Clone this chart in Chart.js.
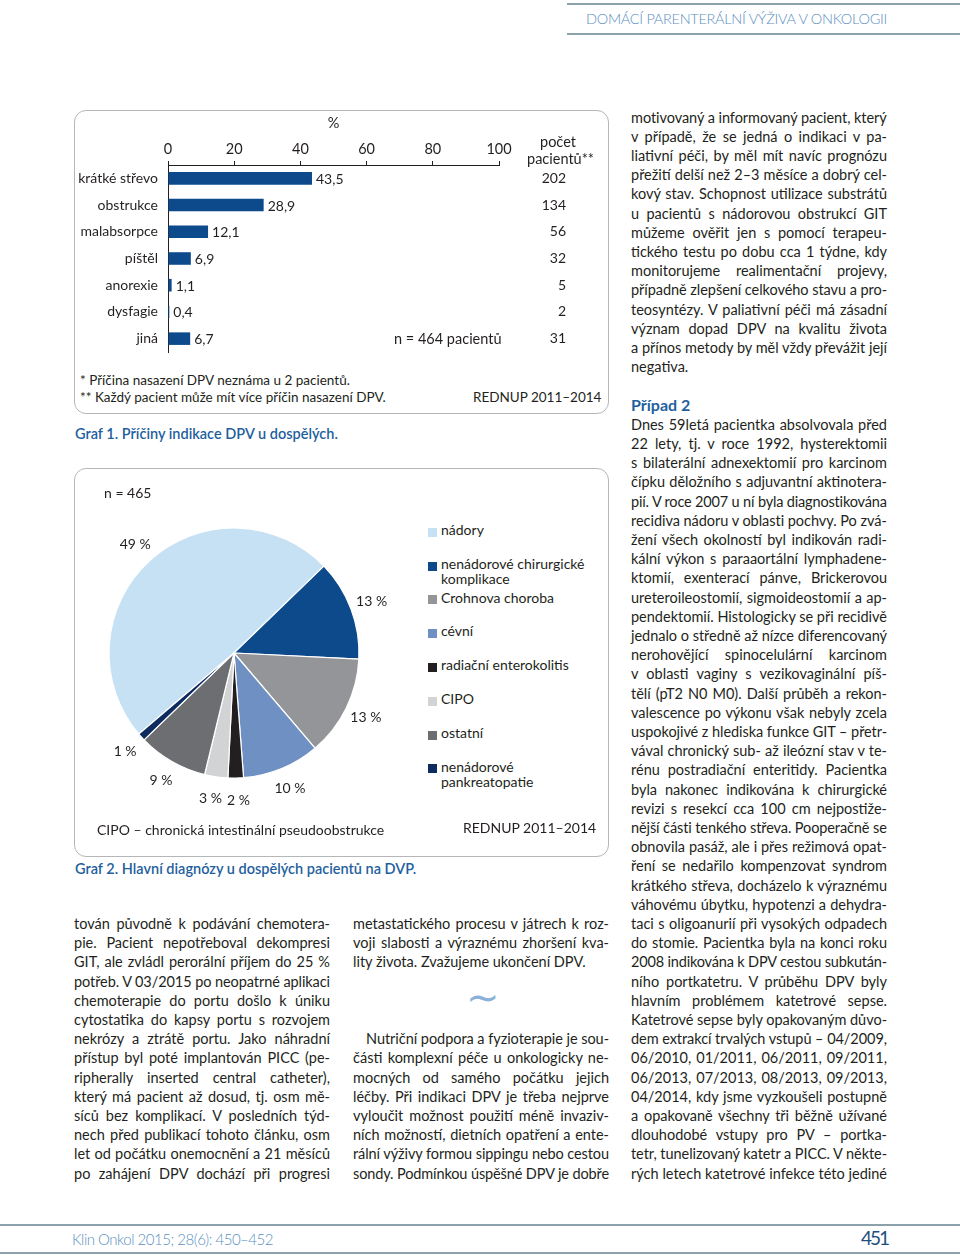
<!DOCTYPE html>
<html><head><meta charset="utf-8">
<script src="https://cdn.jsdelivr.net/npm/chart.js@4.4.0/dist/chart.umd.min.js"></script>
<style>
html,body{margin:0;padding:0;background:#fff;}
body{width:960px;height:1257px;position:relative;overflow:hidden;font-family:Lato,'Open Sans',sans-serif;color:#231f20;}
.t{position:absolute;white-space:nowrap;line-height:1.2;}
.box{position:absolute;border:1px solid #b4b6b8;border-radius:12px;box-sizing:border-box;}
.hl{position:absolute;height:2px;background:#8ba1ab;}
canvas{position:absolute;}
.lg{position:absolute;width:9px;height:9px;}
</style></head><body>
<div class="hl" style="left:567px;top:3px;width:393px;"></div>
<div class="hl" style="left:567px;top:33px;width:393px;"></div>
<div class="hl" style="left:0;top:1224px;width:960px;"></div>
<div class="hl" style="left:0;top:1252px;width:960px;"></div>
<div class="box" style="left:74px;top:110px;width:535px;height:304px;"></div>
<div class="box" style="left:74px;top:468px;width:535px;height:389px;"></div>
<canvas id="bar" width="534" height="247" style="left:75px;top:110px;"></canvas>
<canvas id="pie" width="340" height="340" style="left:64px;top:483px;"></canvas>
<script>
// ---------- data ----------
const causeLabels = ['krátké střevo','obstrukce','malabsorpce','píštěl','anorexie','dysfagie','jiná'];
const causePct = [43.5, 28.9, 12.1, 6.9, 1.1, 0.4, 6.7];
const causeCount = [202, 134, 56, 32, 5, 2, 31];
const pctTicks = [0, 20, 40, 60, 80, 100];

const diagLabels = ['nádory','nenádorové chirurgické\nkomplikace','Crohnova choroba','cévní','radiační enterokolitis','CIPO','ostatní','nenádorové\npankreatopatie'];
const diagPct = [49, 13, 13, 10, 2, 3, 9, 1];

// ---------- styles ----------
const F = 'Lato';
const TXT = '#231f20';
const BLUE = '#1f5f9e';
const diagColors = ['#c7e1f4','#0c4a8b','#939598','#6f90c2','#231f20','#d1d3d4','#6d6e71','#0d2b5e'];

// ---------- text helper ----------
function txt(s, x, y, o) {
  o = o || {};
  const fs = o.fs || 14.5;
  const d = document.createElement('div');
  d.className = 't';
  d.style.left = x + 'px';
  d.style.top = (y - 0.69 * fs) + 'px';
  d.style.fontSize = fs + 'px';
  if (o.color) d.style.color = o.color;
  if (o.fw) d.style.fontWeight = o.fw;
  const sp = document.createElement('span');
  sp.textContent = s;
  d.appendChild(sp);
  document.body.appendChild(d);
  if (o.w) {
    const nat = sp.getBoundingClientRect().width;
    const diff = o.w - nat;
    const n = (s.match(/ /g) || []).length;
    if (o.just && diff > 0 && n) sp.style.wordSpacing = (diff / n) + 'px';
    else if (diff < 0 || !o.just) sp.style.letterSpacing = (diff / s.length) + 'px';
  }
  return d;
}
const Y0 = 118.6, STEP = 19.2;
function column(lines, x, k0, w, lastFree, indentFirst) {
  lines.forEach((s, i) => {
    const ind = (i === 0 && indentFirst) ? indentFirst : 0;
    const free = lastFree && i === lines.length - 1;
    txt(s, x + ind, Y0 + (k0 + i) * STEP, free ? {} : {w: w - ind, just: true});
  });
}

// header / footer
txt('DOMÁCÍ PARENTERÁLNÍ VÝŽIVA V ONKOLOGII', 586, 20, {fs: 14.5, fw: 300, color: '#5b8fc1', w: 301});
txt('Klin Onkol 2015; 28(6): 450–452', 72, 1240, {fs: 15, fw: 300, color: '#5b8fc1', w: 201});
txt('451', 861, 1240, {fs: 19, color: '#1d4f80', w: 27});

// right column
column(['motivovaný a informovaný pacient, který','v případě, že se jedná o indikaci v pa-','liativní péči, by měl mít navíc prognózu','přežití delší než 2–3 měsíce a dobrý cel-','kový stav. Schopnost utilizace substrátů','u pacientů s nádorovou obstrukcí GIT','můžeme ověřit jen s pomocí terapeu-','tického testu po dobu cca 1 týdne, kdy','monitorujeme realimentační projevy,','případně zlepšení celkového stavu a pro-','teosyntézy. V paliativní péči má zásadní','význam dopad DPV na kvalitu života','a přínos metody by měl vždy převážit její','negativa.'], 631, 0, 256, true);
txt('Případ 2', 631, Y0 + 15 * STEP - 1, {fs: 16, fw: 700, color: BLUE});
column(['Dnes 59letá pacientka absolvovala před','22 lety, tj. v roce 1992, hysterektomii','s bilaterální adnexektomií pro karcinom','čípku děložního s adjuvantní aktinotera-','pií. V roce 2007 u ní byla diagnostikována','recidiva nádoru v oblasti pochvy. Po zvá-','žení všech okolností byl indikován radi-','kální výkon s paraaortální lymphadene-','ktomií, exenterací pánve, Brickerovou','ureteroileostomií, sigmoideostomií a ap-','pendektomií. Histologicky se při recidivě','jednalo o středně až nízce diferencovaný','nerohovějící spinocelulární karcinom','v oblasti vaginy s vezikovaginální píš-','tělí (pT2 N0 M0). Další průběh a rekon-','valescence po výkonu však nebyly zcela','uspokojivé z hlediska funkce GIT – přetr-','vával chronický sub- až ileózní stav v te-','rénu postradiační enteritidy. Pacientka','byla nakonec indikována k chirurgické','revizi s resekcí cca 100 cm nejpostiže-','nější části tenkého střeva. Pooperačně se','obnovila pasáž, ale i přes režimová opat-','ření se nedařilo kompenzovat syndrom','krátkého střeva, docházelo k výraznému','váhovému úbytku, hypotenzi a dehydra-','taci s oligoanurií při vysokých odpadech','do stomie. Pacientka byla na konci roku','2008 indikována k DPV cestou subkután-','ního portkatetru. V průběhu DPV byly','hlavním problémem katetrové sepse.','Katetrové sepse byly opakovaným důvo-','dem extrakcí trvalých vstupů – 04/2009,','06/2010, 01/2011, 06/2011, 09/2011,','06/2013, 07/2013, 08/2013, 09/2013,','04/2014, kdy jsme vyzkoušeli postupně','a opakovaně všechny tři běžně užívané','dlouhodobé vstupy pro PV – portka-','tetr, tunelizovaný katetr a PICC. V někte-','rých letech katetrové infekce této jediné'], 631, 16, 256, false);

// left column
column(['tován původně k podávání chemotera-','pie. Pacient nepotřeboval dekompresi','GIT, ale zvládl perorální příjem do 25 %','potřeb. V 03/2015 po neopatrné aplikaci','chemoterapie do portu došlo k úniku','cytostatika do kapsy portu s rozvojem','nekrózy a ztrátě portu. Jako náhradní','přístup byl poté implantován PICC (pe-','ripherally inserted central catheter),','který má pacient až dosud, tj. osm mě-','síců bez komplikací. V posledních týd-','nech před publikací tohoto článku, osm','let od počátku onemocnění a 21 měsíců','po zahájení DPV dochází při progresi'], 74, 42, 256, false);

// middle column
column(['metastatického procesu v játrech k roz-','voji slabosti a výraznému zhoršení kva-','lity života. Zvažujeme ukončení DPV.'], 353, 42, 256, true);
txt('∼', 466, Y0 + 46 * STEP - 2, {fs: 40, fw: 300, color: '#8ab2d8'});
column(['Nutriční podpora a fyzioterapie je sou-','části komplexní péče u onkologicky ne-','mocných od samého počátku jejich','léčby. Při indikaci DPV je třeba nejprve','vyloučit možnost použití méně invaziv-','ních možností, dietních opatření a ente-','rální výživy formou sippingu nebo cestou','sondy. Podmínkou úspěšné DPV je dobře'], 353, 48, 256, false, 13);

// graph 1 texts
txt('počet', 540, 143, {fs: 14.5});
txt('pacientů**', 527, 160, {fs: 14.5});
txt('n = 464 pacientů', 394, 340, {fs: 14.5});
txt('* Příčina nasazení DPV neznáma u 2 pacientů.', 80, 381, {fs: 13.5});
txt('** Každý pacient může mít více příčin nasazení DPV.', 80, 398, {fs: 13.5});
txt('REDNUP 2011–2014', 473, 398, {fs: 13.5});
txt('Graf 1. Příčiny indikace DPV u dospělých.', 75, 435, {fs: 14.5, fw: 600, color: BLUE});

// graph 2 texts
txt('n = 465', 104, 495, {fs: 14});
txt('CIPO – chronická intestinální pseudoobstrukce', 97, 832, {fs: 14});
txt('REDNUP 2011–2014', 463, 830, {fs: 14});
txt('Graf 2. Hlavní diagnózy u dospělých pacientů na DVP.', 75, 870, {fs: 14.5, fw: 600, color: BLUE});

// legend (HTML, built from data arrays)
diagLabels.forEach((lab, i) => {
  const yc = 531.7 + i * 33.8;
  const sq = document.createElement('div');
  sq.className = 'lg';
  sq.style.left = '428px';
  sq.style.top = (yc - 4) + 'px';
  sq.style.background = diagColors[i];
  document.body.appendChild(sq);
  lab.split('\n').forEach((ln, j) => txt(ln, 441, yc + j * 15.5, {fs: 14}));
});

// ---------- plugins ----------
const barLabels = {
  id: 'barLabels',
  afterDatasetsDraw(chart) {
    const ctx = chart.ctx, meta = chart.getDatasetMeta(0);
    ctx.save();
    ctx.font = '14px ' + F;
    ctx.fillStyle = TXT;
    ctx.textAlign = 'left';
    ctx.textBaseline = 'middle';
    meta.data.forEach((b, i) => ctx.fillText(String(causePct[i]).replace('.', ','), b.x + 4, b.y + 1));
    ctx.restore();
  }
};
const pieLabels = {
  id: 'pieLabels',
  afterDatasetsDraw(chart) {
    const ctx = chart.ctx, meta = chart.getDatasetMeta(0);
    ctx.save();
    ctx.font = '14px ' + F;
    ctx.fillStyle = TXT;
    ctx.textAlign = 'center';
    ctx.textBaseline = 'middle';
    const items = meta.data.map((arc, i) => {
      const p = arc.getProps(['x', 'y', 'startAngle', 'endAngle', 'outerRadius'], true);
      const a = (p.startAngle + p.endAngle) / 2, r = p.outerRadius + 22;
      const t = diagPct[i] + ' %';
      return {t, x: p.x + Math.cos(a) * r, y: p.y + Math.sin(a) * r, w: ctx.measureText(t).width};
    });
    // simple overlap resolution between neighbouring labels
    for (let it = 0; it < 10; it++) {
      for (let i = 0; i < items.length; i++) for (let j = i + 1; j < items.length; j++) {
        const A = items[i], B = items[j];
        const dx = B.x - A.x, dy = B.y - A.y, need = (A.w + B.w) / 2 + 5;
        if (Math.abs(dy) < 14 && Math.abs(dx) < need) {
          const s = dx >= 0 ? 1 : -1, push = (need - Math.abs(dx)) / 2;
          A.x -= s * push; B.x += s * push;
        }
      }
    }
    items.forEach(o => ctx.fillText(o.t, o.x, o.y));
    ctx.restore();
  }
};

// ---------- charts ----------
Chart.defaults.font.family = F;
Chart.defaults.color = TXT;
const noPad = s => { s.paddingTop = 0; s.paddingBottom = 0; };

new Chart(document.getElementById('bar'), {
  type: 'bar',
  data: {
    labels: causeLabels,
    datasets: [{data: causePct, backgroundColor: '#0c4a8b', barPercentage: 0.47, categoryPercentage: 1, xAxisID: 'x', yAxisID: 'y'}]
  },
  options: {
    responsive: false, animation: false, indexAxis: 'y',
    layout: {padding: {left: 0, right: 43, top: 0, bottom: 5}},
    plugins: {legend: {display: false}, tooltip: {enabled: false}},
    scales: {
      x: {
        position: 'top', min: 0, max: 100,
        afterBuildTicks: s => { s.ticks = pctTicks.map(v => ({value: v})); },
        afterFit: s => { s.height = 55; },
        ticks: {font: {size: 14.5}, color: TXT, padding: 3},
        grid: {drawOnChartArea: false, drawTicks: true, tickLength: 4, color: TXT, lineWidth: 1},
        border: {display: true, color: TXT, width: 1},
        title: {display: true, text: '%', font: {size: 14.5}, color: TXT, padding: {top: 5, bottom: 0}}
      },
      y: {
        position: 'left',
        afterFit: s => { s.width = 93; noPad(s); },
        ticks: {font: {size: 14}, color: TXT, padding: 10, autoSkip: false},
        grid: {display: false, drawTicks: false},
        border: {display: true, color: TXT, width: 1}
      },
      y2: {
        type: 'category', position: 'right', labels: causeCount.map(String), offset: true,
        afterFit: s => { s.width = 67; noPad(s); },
        ticks: {font: {size: 14}, color: TXT, padding: 0, crossAlign: 'far', autoSkip: false},
        grid: {display: false, drawTicks: false},
        border: {display: false}
      }
    }
  },
  plugins: [barLabels]
});

new Chart(document.getElementById('pie'), {
  type: 'pie',
  data: {labels: diagLabels, datasets: [{data: diagPct, backgroundColor: diagColors, borderColor: '#ffffff', borderWidth: 1.2}]},
  options: {
    responsive: false, animation: false, rotation: -130.4, radius: 125,
    layout: {padding: 0},
    plugins: {legend: {display: false}, tooltip: {enabled: false}}
  },
  plugins: [pieLabels]
});
</script>
</body></html>
